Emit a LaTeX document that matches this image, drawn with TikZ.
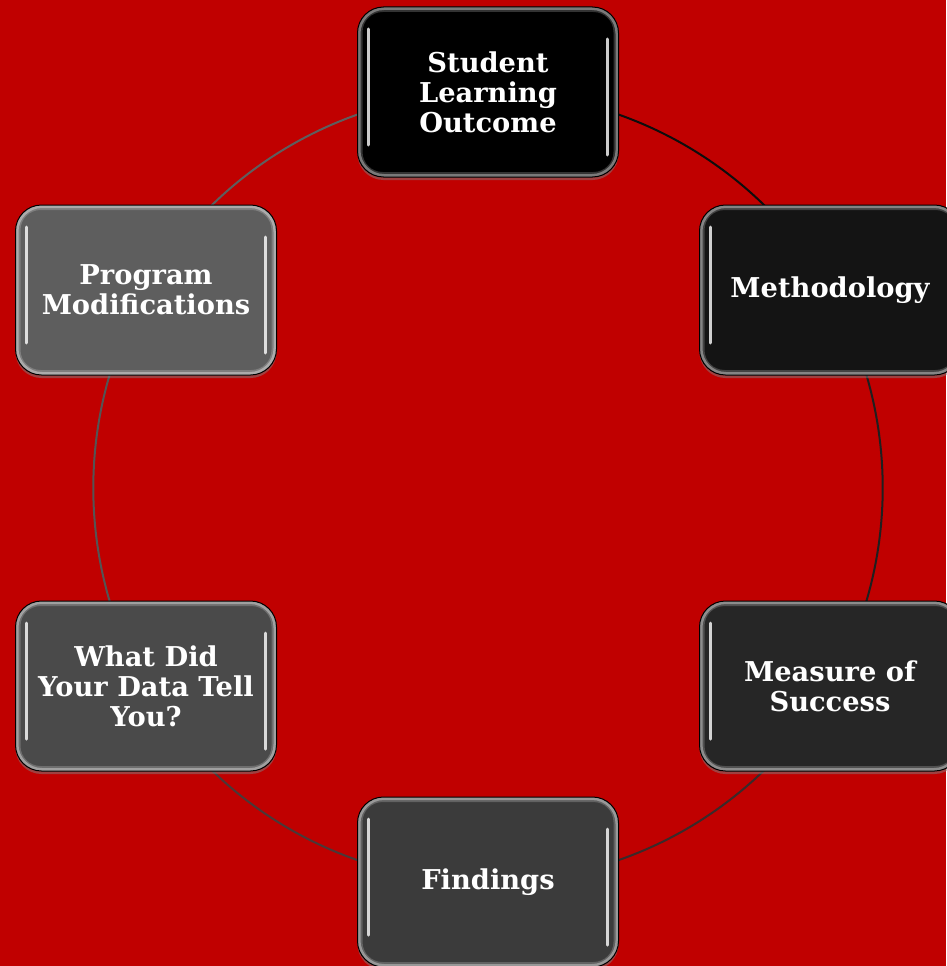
\documentclass[tikz,border=0pt]{standalone}
\usepackage{fontspec}
\newfontfamily\stagefont{DejaVu Serif}
\usetikzlibrary{backgrounds,shadows}

\definecolor{bgred}{HTML}{C00000}
\definecolor{arcthree}{HTML}{3A2A2A}
\definecolor{arcfour}{HTML}{4A3838}

\tikzset{
  stage/.style={draw=black, line width=1pt, rounded corners=26pt,
    minimum width=261pt, minimum height=170pt, inner sep=2pt,
    align=center, text=white,
    font=\stagefont\bfseries\fontsize{27.3}{30}\selectfont,
    drop shadow={opacity=0.5, shadow xshift=0pt, shadow yshift=-3pt},
    path picture={
      \draw[white, opacity=0.2, line width=8pt, rounded corners=24pt]
        ([shift={(1pt,-1pt)}]path picture bounding box.north west) rectangle
        ([shift={(-1pt,1pt)}]path picture bounding box.south east);
      \draw[white, opacity=0.35, line width=3pt, rounded corners=25pt]
        ([shift={(1.5pt,-1.5pt)}]path picture bounding box.north west) rectangle
        ([shift={(-1.5pt,1.5pt)}]path picture bounding box.south east);
      \draw[white, opacity=0.8, line width=3pt, line cap=round]
        ([shift={(11pt,-22pt)}]path picture bounding box.north west) --
        ([shift={(11pt,32pt)}]path picture bounding box.south west);
      \draw[white, opacity=0.8, line width=3pt, line cap=round]
        ([shift={(-11pt,-32pt)}]path picture bounding box.north east) --
        ([shift={(-11pt,22pt)}]path picture bounding box.south east);
    }},
  link/.style={line width=2pt},
  ring/.style={bend left=30, looseness=0.91}
}

\begin{document}
\begin{tikzpicture}[x=1pt,y=-1pt]
  \useasboundingbox (0,0) rectangle (946,966);

  \node[stage, fill=black] (slo) at (488,92) {Student\\Learning\\Outcome};
  \node[stage, fill=black!92] (meth) at (830,290) {Methodology};
  \node[stage, fill=black!85] (meas) at (830,686) {Measure of\\Success};
  \node[stage, fill=black!77] (find) at (488,882) {Findings};
  \node[stage, fill=black!71] (what) at (146,686) {What Did\\Your Data Tell\\You?};
  \node[stage, fill=black!63] (prog) at (146,290) {Program\\Modifications};

  \begin{pgfonlayer}{background}
    \fill[bgred] (0,0) rectangle (946,966);
    \draw[link, black!95] (slo.center) to[ring] (meth.center);
    \draw[link, black!88] (meth.center) to[ring] (meas.center);
    \draw[link, arcthree] (meas.center) to[ring] (find.center);
    \draw[link, arcfour] (find.center) to[ring] (what.center);
    \draw[link, black!67] (what.center) to[ring] (prog.center);
    \draw[link, black!63] (prog.center) to[ring] (slo.center);
  \end{pgfonlayer}
\end{tikzpicture}
\end{document}
